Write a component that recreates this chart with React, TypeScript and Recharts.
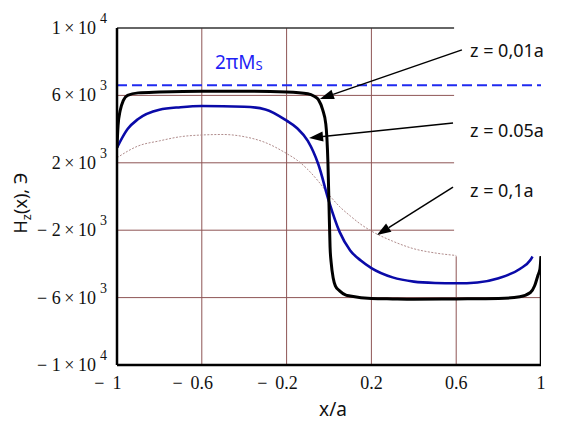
import {
  LineChart, Line, XAxis, YAxis, ReferenceLine,
} from 'recharts';

// axes
const X_TICKS = [-1, -0.6, -0.2, 0.2, 0.6, 1];
const Y_TICKS = [-10000, -6000, -2000, 2000, 6000, 10000];
const X_GRID = [-0.6, -0.2, 0.2, 0.6];
const Y_GRID = [-6000, -2000, 2000, 6000];
const PANEL_X = 0.59;    // left edge of the white label panel
const PANEL_Y = -3550;   // bottom edge of the white label panel
const MS_LEVEL = 6600;   // 2πMs

// z = 0,01a
const X_001 = [-1, -0.995, -0.985, -0.97, -0.95, -0.9, -0.8, -0.6, -0.4, -0.2, -0.1, -0.07, -0.05, -0.03, -0.015, -0.01, -0.005, 0, 0.005, 0.01, 0.02, 0.03, 0.05, 0.08, 0.1, 0.2, 0.3, 0.4, 0.6, 0.8, 0.9, 0.95, 0.97, 0.985, 0.995, 1];
const H_001 = [2900, 4200, 5100, 5700, 6000, 6150, 6200, 6250, 6250, 6200, 6100, 5950, 5750, 5150, 4300, 3500, 2000, -500, -3000, -3900, -4850, -5300, -5600, -5850, -5900, -6050, -6080, -6100, -6080, -6050, -5950, -5700, -5300, -4700, -4300, -3550];

// z = 0.05a
const X_005 = [-1, -0.95, -0.9, -0.8, -0.7, -0.6, -0.4, -0.3, -0.2, -0.15, -0.1, -0.05, 0, 0.05, 0.1, 0.15, 0.2, 0.3, 0.4, 0.5, 0.6, 0.7, 0.8, 0.9, 0.95, 0.96];
const H_005 = [2900, 4000, 4600, 5150, 5300, 5370, 5330, 5170, 4500, 4050, 3300, 1900, -300, -2100, -3200, -3800, -4250, -4800, -5050, -5130, -5150, -5100, -4850, -4300, -3770, -3560];

// z = 0,1a
const X_01 = [-1, -0.9, -0.8, -0.7, -0.6, -0.5, -0.4, -0.3, -0.2, -0.15, -0.1, -0.05, 0, 0.05, 0.1, 0.15, 0.2, 0.3, 0.4, 0.5, 0.6];
const H_01 = [2300, 3000, 3300, 3550, 3650, 3680, 3550, 3200, 2550, 2150, 1600, 900, 100, -600, -1150, -1650, -2050, -2650, -3100, -3350, -3500];

const toRows = (xs: number[], ys: number[]) => xs.map((x, i) => ({ x, h: ys[i] }));

// straight pieces (grid + frame) as two-point series
const hSeg = (y: number, x1: number, x2: number) => [{ x: x1, h: y }, { x: x2, h: y }];
const vSeg = (x: number, y1: number, y2: number) => [{ x, h: y1 }, { x, h: y2 }];

const GRID = '#8e5555';
const SERIF = '"Liberation Serif", "Times New Roman", serif';
const SANS = '"Noto Sans", "Open Sans", sans-serif';

function YTick({ x, y, payload }: any) {
  const v = payload.value;
  const a = Math.abs(v);
  const exp = Math.floor(Math.log10(a));
  const m = Math.round(a / 10 ** exp);
  return (
    <text x={x} y={y + 6} textAnchor="end" fontFamily={SERIF} fontSize={18} fill="#111">
      {v < 0 ? '\u2212 ' : ''}{m}{'\u2009×\u2009'}10
      <tspan dx={4} dy={-11} fontSize={14}>{exp}</tspan>
    </text>
  );
}

function XTick({ x, y, payload }: any) {
  const v = payload.value;
  const s = String(Math.abs(v));
  const half = (s.replace('.', '').length * 9 + (s.includes('.') ? 4.5 : 0)) / 2;
  return (
    <g fontFamily={SERIF} fontSize={18} fill="#111">
      <text x={x} y={y + 24} textAnchor="middle">{s}</text>
      {v < 0 && <text x={x - half - 8} y={y + 24} textAnchor="end">{'\u2212'}</text>}
    </g>
  );
}

function Arrow(props: any) {
  const { x1, y1, x2, y2 } = props;
  const ang = Math.atan2(y2 - y1, x2 - x1);
  const L = 14, W = 5;
  const bx = x2 - L * Math.cos(ang), by = y2 - L * Math.sin(ang);
  const px = -Math.sin(ang) * W, py = Math.cos(ang) * W;
  return (
    <g>
      <line x1={x1} y1={y1} x2={bx} y2={by} stroke="#000" strokeWidth={1.5} />
      <polygon points={`${x2},${y2} ${bx + px},${by + py} ${bx - px},${by - py}`} fill="#000" />
    </g>
  );
}

export default function App() {
  return (
    <div style={{ position: 'absolute', left: 0, top: 0, width: 561, height: 421, background: '#fff' }}>
      <LineChart width={561} height={421} margin={{ top: 28, right: 20, left: 0, bottom: 0 }}>
        <XAxis
          type="number" dataKey="x" domain={[-1, 1]} ticks={X_TICKS} allowDataOverflow
          height={56} tickSize={0} tickMargin={0} tick={<XTick />}
          axisLine={{ stroke: '#000', strokeWidth: 2.5 }}
        />
        <YAxis
          type="number" domain={[-10000, 10000]} ticks={Y_TICKS}
          width={117} tickSize={0} tickMargin={10} tick={<YTick />}
          axisLine={{ stroke: '#000', strokeWidth: 2.5 }}
        />

        {/* grid, stopped where the label panel sits */}
        {Y_GRID.map((g) => (
          <Line key={'h' + g} data={hSeg(g, -1, g < PANEL_Y ? 1 : PANEL_X)} dataKey="h" type="linear"
            stroke={GRID} strokeWidth={1} dot={false} activeDot={false} isAnimationActive={false} />
        ))}
        {X_GRID.map((g) => (
          <Line key={'v' + g} data={vSeg(g, -10000, g > PANEL_X ? PANEL_Y : 10000)} dataKey="h" type="linear"
            stroke={GRID} strokeWidth={1} dot={false} activeDot={false} isAnimationActive={false} />
        ))}

        {/* frame pieces outside the label panel */}
        <Line data={hSeg(10000, -1, PANEL_X)} dataKey="h" type="linear" stroke="#333" strokeWidth={1.5}
          dot={false} activeDot={false} isAnimationActive={false} />
        <Line data={vSeg(1, -10000, PANEL_Y)} dataKey="h" type="linear" stroke="#000" strokeWidth={2.5}
          dot={false} activeDot={false} isAnimationActive={false} />

        <Line data={toRows(X_01, H_01)} dataKey="h" type="monotone" stroke="#b08c8c" strokeWidth={1}
          strokeDasharray="2 1.5" dot={false} isAnimationActive={false} />
        <Line data={toRows(X_005, H_005)} dataKey="h" type="monotone" stroke="#0a0aa8" strokeWidth={2.6}
          dot={false} isAnimationActive={false} />
        <Line data={toRows(X_001, H_001)} dataKey="h" type="monotone" stroke="#000" strokeWidth={3}
          dot={false} isAnimationActive={false} />

        <ReferenceLine y={MS_LEVEL} stroke="#1f2af0" strokeWidth={2} strokeDasharray="10 5" />

        <ReferenceLine segment={[{ x: 0.627, y: 8700 }, { x: -0.043, y: 5790 }]} shape={<Arrow />} />
        <ReferenceLine segment={[{ x: 0.585, y: 4360 }, { x: -0.094, y: 3470 }]} shape={<Arrow />} />
        <ReferenceLine segment={[{ x: 0.585, y: 560 }, { x: 0.226, y: -2290 }]} shape={<Arrow />} />
      </LineChart>

      <svg width={561} height={421} style={{ position: 'absolute', left: 0, top: 0, pointerEvents: 'none' }}>
        <g fontFamily={SANS} fontSize={18} fill="#111">
          <text x={470} y={57}>z = 0,01a</text>
          <text x={470} y={137}>z = 0.05a</text>
          <text x={470} y={197}>z = 0,1a</text>
          <text x={333} y={416} textAnchor="middle" fontSize={19}>x/a</text>
          <text transform="translate(27,203) rotate(-90)" textAnchor="middle" fontSize={18}>
            H<tspan dy={4} fontSize={13}>z</tspan><tspan dy={-4}>(x), Э</tspan>
          </text>
        </g>
        <text x={215} y={69} fontFamily={SANS} fontSize={19} fill="#1f1ff5">
          2πM<tspan fontSize={13} dy={1}>S</tspan>
        </text>
      </svg>
    </div>
  );
}
